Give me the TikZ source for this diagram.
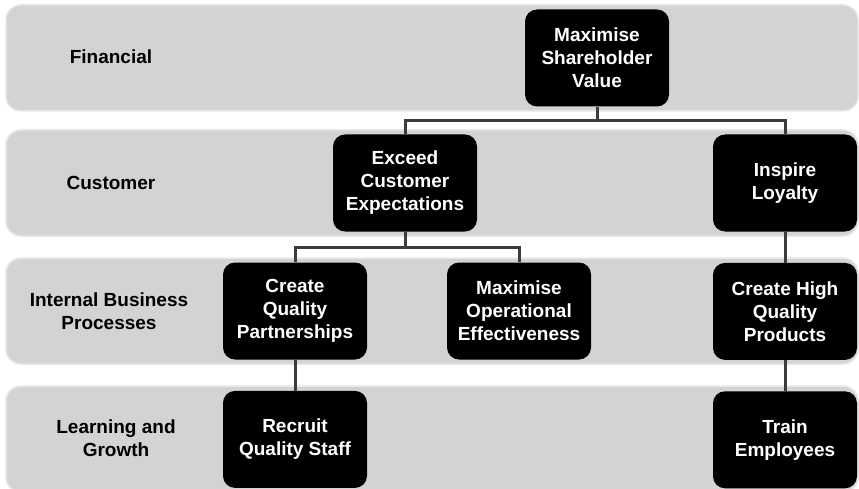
\documentclass[tikz,border=0pt]{standalone}
\usepackage{fontspec}
\setmainfont{Liberation Sans}
\usetikzlibrary{positioning}
\usetikzlibrary{calc}
\definecolor{bandgray}{HTML}{D1D3D4}
\definecolor{linkgray}{HTML}{3C3C3C}
\def\myboxw{144pt}
\def\myboxh{97pt}
\tikzset{
my font/.style={font=\bfseries\fontsize{19pt}{23pt}\selectfont},
my band/.style={fill=bandgray,draw=bandgray!55!white,line width=1.5pt,rounded corners=15pt},
my label/.style={my font,align=center,inner sep=0pt},
my box/.style={my font,fill=black,text=white,rounded corners=12pt,
  minimum width=\myboxw,minimum height=\myboxh,align=center,inner sep=1mm},
link/.style={linkgray,line width=3pt},
elbow/.style={to path={|- ($(\tikztostart)!.5!(\tikztotarget)$) -| (\tikztotarget)}},
node distance=31pt
}
\begin{document}
\begin{tikzpicture}[x=1pt,y=-1pt]
\useasboundingbox (0,0) rectangle (859,489);
\clip (0,0) rectangle (859,489);
% perspective bands
\foreach \bandtop in {5,130,258,386}
  \draw[my band] (6,\bandtop) rectangle (858,\bandtop+106);
\node[my label] (fin) at (111,57) {Financial};
\node[my label] (cus) at (111,183) {Customer};
\node[my label] (ibp) at (109,311) {Internal Business\\Processes};
\node[my label] (lag) at (116,438) {Learning and\\Growth};
% objectives
\node[my box] (msv) at (597,58) {Maximise\\Shareholder\\Value};
\node[my box] (ece) at (405,183) {Exceed\\Customer\\Expectations};
\node[my box] (il) at (785,183) {Inspire\\Loyalty};
\node[my box] (cqp) at (295,311) {Create\\Quality\\Partnerships};
\node[my box] (moe) at (519,311) {Maximise\\Operational\\Effectiveness};
\node[my box,below=of il] (chqp) {Create High\\Quality\\Products};
\node[my box,below=of cqp] (rqs) {Recruit\\Quality Staff};
\node[my box,below=of chqp] (te) {Train\\Employees};
\path[link]
  (msv.south) edge[elbow] (ece.north) edge[elbow] (il.north)
  (ece.south) edge[elbow] (cqp.north) edge[elbow] (moe.north)
  (il.south) edge (chqp.north)
  (cqp.south) edge (rqs.north)
  (chqp.south) edge (te.north);
\end{tikzpicture}
\end{document}
